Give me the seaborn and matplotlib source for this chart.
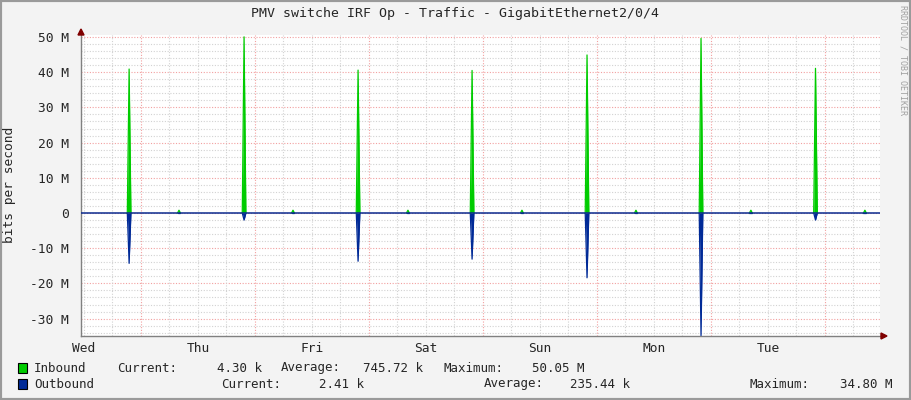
import numpy as np
import pandas as pd
import matplotlib
matplotlib.use("Agg")
import matplotlib.pyplot as plt
import seaborn as sns
from matplotlib.patches import Rectangle, Polygon

W, H = 911, 400

title = "PMV switche IRF Op - Traffic - GigabitEthernet2/0/4"
day_labels = ["Wed", "Thu", "Fri", "Sat", "Sun", "Mon", "Tue"]

# hours since Wed 00:00, values in Mbit/s
spike_hours = [21.5, 45.7, 69.7, 93.7, 117.9, 141.9, 166.0]
inbound_peak = [40.9, 50.05, 40.6, 40.5, 44.9, 49.6, 41.1]
outbound_peak = [14.3, 2.0, 13.7, 13.1, 18.4, 34.8, 2.0]
blip_hours = [32.0, 56.0, 80.2, 104.2, 128.2, 152.4, 176.4]
blip_inbound = [0.8, 0.8, 0.8, 0.8, 0.8, 0.8, 0.8]

legend_in = ["Inbound", "Current:", "4.30 k", "Average:", "745.72 k", "Maximum:", "50.05 M"]
legend_out = ["Outbound", "Current:", "2.41 k", "Average:", "235.44 k", "Maximum:", "34.80 M"]

t_start, t_end = 11.37, 179.58
y_min, y_max = -34.94, 50.57

C_IN = "#00CC00"
C_OUT = "#002A97"
BG = "#F3F3F3"

# one short event per spike / blip, each a small peak over the zero baseline
rows = []
ev = 0
for t, p, q in zip(spike_hours, inbound_peak, outbound_peak):
    rows += [(ev, t - 0.38, 0.0, 0.0), (ev, t, p, q), (ev, t + 0.38, 0.0, 0.0)]
    ev += 1
for t, p in zip(blip_hours, blip_inbound):
    rows += [(ev, t - 0.3, 0.0, 0.0), (ev, t, p, 0.0), (ev, t + 0.3, 0.0, 0.0)]
    ev += 1
df = pd.DataFrame(rows, columns=["event", "hour", "inbound", "outbound"]).sort_values("hour")
df["outbound"] = -df["outbound"]

sns.set_style("white")
plt.rcParams["font.family"] = ["DejaVu Sans Mono"]

fig = plt.figure(figsize=(W / 100, H / 100), dpi=100, facecolor=BG)
ax = fig.add_axes([81 / W, 1 - 336 / H, (880 - 81) / W, (336 - 35) / H])
ax.set_facecolor("white")

# grid
dots = (0, (1, 1.5))
for v in np.arange(-34, 51, 2):
    if v % 10:
        ax.axhline(v, color="#D2D2D2", lw=0.8, ls=dots, zorder=0)
for v in np.arange(-30, 51, 10):
    ax.axhline(v, color="#F2A0A0", lw=0.8, ls=dots, zorder=0)
for h in np.arange(12, 180, 6):
    if h % 24:
        ax.axvline(h, color="#D2D2D2", lw=0.8, ls=dots, zorder=0)
for h in np.arange(24, 180, 24):
    ax.axvline(h, color="#F2A0A0", lw=0.8, ls=dots, zorder=0)

for _, g in df.groupby("event"):
    ax.fill_between(g["hour"], 0, g["inbound"], color=C_IN, lw=0, zorder=2)
    ax.fill_between(g["hour"], 0, g["outbound"], color=C_OUT, lw=0, zorder=2)
sns.lineplot(data=df, x="hour", y="outbound", units="event", estimator=None,
             ax=ax, color=C_OUT, lw=0.9, zorder=3)
sns.lineplot(data=df, x="hour", y="inbound", units="event", estimator=None,
             ax=ax, color=C_IN, lw=0.9, zorder=3)
ax.axhline(0, color="#0B2B8F", lw=1.1, zorder=4)

ax.set_xlim(t_start, t_end)
ax.set_ylim(y_min, y_max)

# axes
for s in ["top", "right"]:
    ax.spines[s].set_visible(False)
for s in ["left", "bottom"]:
    ax.spines[s].set_color("#808080")
    ax.spines[s].set_linewidth(1)
ax.spines["bottom"].set_bounds(t_start, t_end + 0.6)

yt = np.arange(-30, 51, 10)
ax.set_yticks(yt)
ax.set_yticklabels(["0" if v == 0 else f"{v} M" for v in yt], fontsize=9.3)
ax.set_yticks(np.arange(-34, 51, 2), minor=True)
ax.set_xticks(np.arange(12, 180, 24))
ax.set_xticklabels(day_labels, fontsize=9.3)
ax.set_xticks(np.arange(12, 180, 6), minor=True)
ax.tick_params(axis="y", which="major", length=3, color="#808080", pad=6)
ax.tick_params(axis="y", which="minor", length=2, color="#808080")
ax.tick_params(axis="x", which="major", length=0, pad=4)
ax.tick_params(axis="x", which="minor", length=2, color="#808080")
ax.set_xlabel("")
ax.set_ylabel("")

# arrows
px = lambda x, y: (x / W, 1 - y / H)
fig.patches.append(Polygon([px(78, 35), px(84, 35), px(81, 29)], closed=True,
                           transform=fig.transFigure, color="#7F0000", zorder=10))
fig.patches.append(Polygon([px(881, 333), px(881, 339), px(887, 336)], closed=True,
                           transform=fig.transFigure, color="#7F0000", zorder=10))

fig.text(455 / W, 1 - 14 / H, title, ha="center", va="center", fontsize=9.5)
fig.text(10 / W, 1 - 185 / H, "bits per second", rotation=90, ha="center", va="center", fontsize=9.3)
fig.text(903 / W, 1 - 5 / H, "RRDTOOL / TOBI OETIKER", rotation=270, ha="center", va="top",
         fontsize=6.0, color="#A0A0A0")

# legend
in_x = [34, 117, 262, 281, 423, 443, 585]
in_ha = ["left", "left", "right", "left", "right", "left", "right"]
out_x = [34, 221, 364, 484, 630, 750, 893]
for txt, x, ha in zip(legend_in, in_x, in_ha):
    fig.text(x / W, 1 - 368 / H, txt, ha=ha, va="center", fontsize=9)
for txt, x, ha in zip(legend_out, out_x, in_ha):
    fig.text(x / W, 1 - 384 / H, txt, ha=ha, va="center", fontsize=9)
for yy, c in [(368, C_IN), (384, C_OUT)]:
    fig.patches.append(Rectangle(px(18, yy + 5), 9 / W, 10 / H, transform=fig.transFigure,
                                 facecolor=c, edgecolor="black", lw=0.8))

# frame
fig.patches.append(Rectangle((0, 0), 1, 1, transform=fig.transFigure, fill=False,
                             edgecolor="#9A9A9A", lw=3))

fig.savefig("out.png", dpi=100, facecolor=BG)
